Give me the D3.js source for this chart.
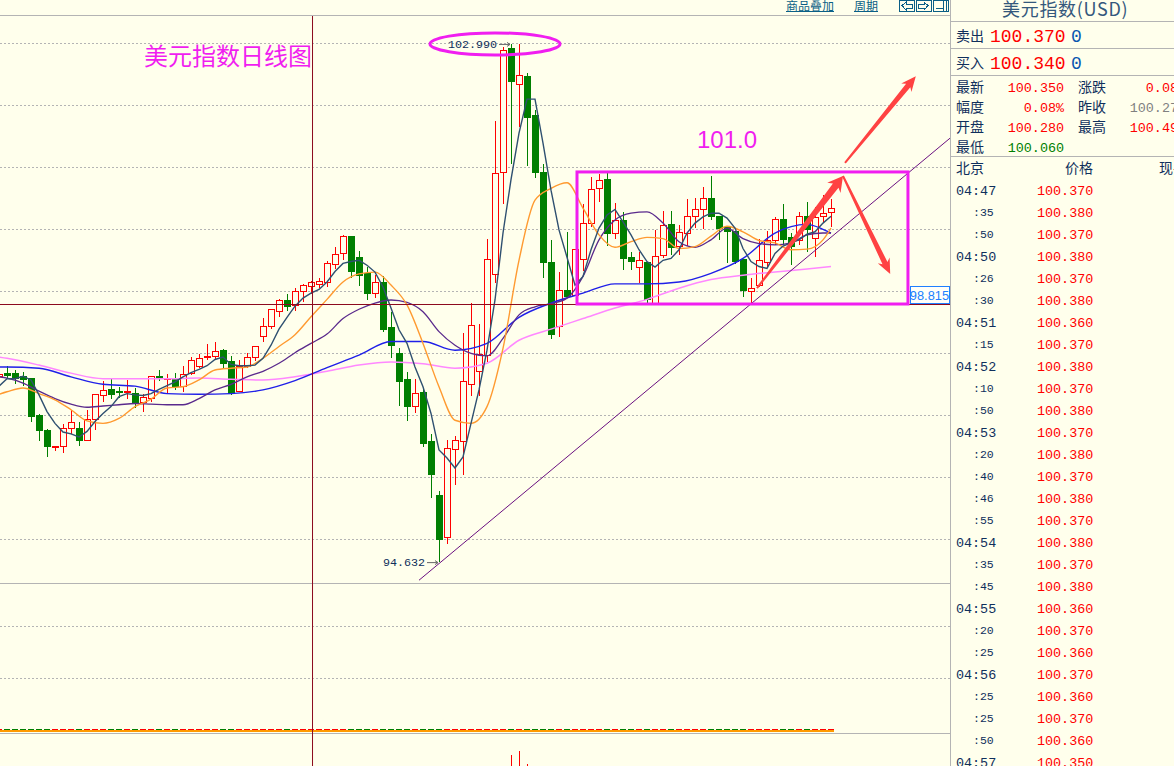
<!DOCTYPE html>
<html><head><meta charset="utf-8">
<style>html,body{margin:0;padding:0;background:#ffffec;overflow:hidden}svg{display:block}</style>
<script src="https://cdnjs.cloudflare.com/ajax/libs/d3/7.8.5/d3.min.js"></script>
</head><body><svg id="c" width="1174" height="766"></svg>
<script>
// ---------- candle data (first row is the clipped candle at the left edge) ----------
const opens=[97.63,
97.68,97.67,97.63,97.59,96.99,96.76,96.48,96.49,96.78,96.79,
96.59,96.93,97.32,97.42,97.39,97.36,97.35,97.21,97.27,97.62,
97.59,97.60,97.47,97.67,97.78,97.93,97.95,98.04,97.86,97.39,
97.79,97.94,98.27,98.43,98.67,98.85,98.77,99.00,99.08,99.11,
99.14,99.44,99.61,99.89,99.55,99.28,98.96,99.14,98.41,97.99,
97.57,97.15,97.36,96.57,95.71,95.03,96.45,96.57,97.49,97.70,
97.97,99.27,100.91,102.92,102.33,102.47,101.83,100.92,99.47,98.44,
99.02,98.94,99.52,100.10,100.66,100.80,99.94,100.14,99.54,99.39,
99.47,98.81,99.57,100.07,99.73,99.94,100.21,100.32,100.50,100.21,
100.03,99.96,99.52,98.99,99.09,99.46,99.82,100.16,99.86,99.82,
100.21,99.85,100.20,100.27];
const closes=[97.66,
97.65,97.60,97.57,96.98,96.75,96.49,96.50,96.78,96.89,96.59,
96.94,97.34,97.40,97.33,97.36,97.39,97.20,97.29,97.63,97.59,
97.60,97.47,97.66,97.89,97.92,97.95,98.03,97.84,97.35,97.79,
97.94,98.11,98.44,98.70,98.85,98.75,99.00,99.10,99.15,99.16,
99.45,99.59,99.89,99.32,99.26,98.96,99.14,98.39,98.12,97.55,
97.15,97.35,96.54,96.05,95.00,96.47,96.60,97.55,98.45,97.98,
99.52,100.90,102.88,102.39,102.48,101.81,100.91,99.46,98.30,99.02,
98.92,99.67,100.10,100.64,100.78,99.94,100.15,99.53,99.48,99.50,
98.86,99.56,100.06,99.70,99.95,100.21,100.32,100.50,100.20,100.02,
99.96,99.48,99.02,99.04,99.50,99.82,100.16,99.83,99.73,100.21,
99.99,100.19,100.26,100.34];
const highs=[97.72,
97.79,97.73,97.70,97.59,97.02,96.78,96.50,96.86,97.09,96.89,
97.09,97.34,97.55,97.59,97.46,97.57,97.44,97.35,97.64,97.73,
97.67,97.68,97.79,97.94,97.99,98.15,98.18,98.07,97.96,97.89,
98.00,98.11,98.57,98.71,98.88,98.96,99.05,99.11,99.17,99.21,
99.49,99.72,99.91,99.89,99.65,99.40,99.26,99.24,98.67,98.09,
97.70,97.59,97.44,96.70,95.78,96.60,96.67,98.33,98.81,98.47,
99.84,101.75,102.94,102.99,102.99,102.52,101.92,101.06,99.83,99.31,
99.96,99.67,100.41,100.85,100.90,100.91,100.42,100.28,99.63,99.63,
99.47,99.99,100.29,100.29,100.07,100.49,100.51,100.69,100.86,100.21,
100.05,99.98,99.52,99.21,99.85,99.97,100.20,100.41,99.94,100.28,
100.44,100.36,100.55,100.49];
const lows=[97.60,
97.59,97.50,97.47,96.89,96.59,96.33,96.43,96.40,96.70,96.51,
96.58,96.76,97.21,97.26,97.28,97.26,97.12,97.05,97.21,97.55,
97.36,97.41,97.38,97.65,97.76,97.89,97.91,97.76,97.33,97.38,
97.76,97.88,98.18,98.39,98.59,98.68,98.68,98.83,98.96,99.05,
99.07,99.36,99.50,99.22,99.08,98.86,98.89,98.34,97.93,97.15,
96.91,97.04,96.49,95.67,94.632,94.92,95.88,96.04,97.31,97.31,
97.86,99.13,100.41,101.05,101.65,101.02,100.83,99.21,98.23,98.27,
98.89,98.92,99.32,100.04,100.44,99.73,99.85,99.34,99.34,99.13,
98.81,98.78,99.53,99.59,99.59,99.73,100.02,100.00,100.15,99.82,
99.45,99.44,98.91,98.81,99.07,99.37,99.75,99.75,99.42,99.75,
99.64,99.56,100.12,100.04];
const candleIndex=d3.range(-1,104);

// ---------- moving averages ----------
const ma5=[97.47,
97.59,97.59,97.63,97.57,97.33,97.06,96.87,96.73,96.70,96.65,
96.74,96.90,97.03,97.14,97.30,97.35,97.33,97.32,97.35,97.42,
97.48,97.54,97.62,97.69,97.74,97.80,97.90,97.94,97.82,97.80,
97.80,97.81,97.92,98.13,98.39,98.58,98.76,98.89,98.97,99.03,
99.15,99.32,99.45,99.48,99.50,99.42,99.31,99.07,98.73,98.38,
98.16,97.78,97.46,97.03,96.44,96.31,96.15,96.33,96.87,97.41,
98.05,98.86,99.94,100.80,101.55,102.10,102.10,101.39,100.63,99.99,
99.55,99.10,99.24,99.67,100.02,100.23,100.32,100.12,99.91,99.67,
99.48,99.39,99.50,99.53,99.67,99.94,100.10,100.20,100.26,100.26,
100.18,100.02,99.69,99.48,99.40,99.37,99.61,99.73,99.78,99.83,
99.92,99.96,100.10,100.21];
const ma5Index=d3.range(-1,104);
const ma10=[97.34,
97.38,97.44,97.35,97.25,97.09,96.91,96.87,96.95,97.14,97.26,
97.44,97.46,97.57,97.73,97.76,97.78,97.92,98.11,98.30,98.59,
98.87,99.15,99.28,99.31,99.10,98.78,98.16,97.46,96.92,96.87,
97.14,98.08,99.50,100.47,100.66,100.75,100.34,99.91,99.71,99.80,
99.87,99.85,99.69,99.72,99.89,100.05,99.96,99.82,99.78,99.67,
99.68,99.83,100.02];
const ma20=[97.62,
97.60,97.52,97.39,97.27,97.18,97.13,97.15,97.17,97.19,97.18,
97.17,97.17,97.27,97.41,97.50,97.62,97.71,97.84,98.01,98.16,
98.31,98.56,98.71,98.81,98.86,98.82,98.67,98.35,98.13,98.00,
97.96,98.24,98.62,98.75,98.80,98.89,99.24,99.83,100.15,100.26,
100.28,100.10,99.80,99.71,99.83,100.02,99.85,99.77,99.75,99.78,
99.91,99.94,99.94];
const midIndex=[-1,...d3.range(0,104,2),103];
const ma60=[97.78,
97.78,97.76,97.62,97.50,97.47,97.35,97.34,97.35,97.41,97.56,
97.77,97.97,98.19,98.19,98.05,98.16,98.58,98.81,
98.97,99.12,99.12,99.15,99.29,99.53,99.94,100.08,100.00,99.94];
const ma60Index=[-1,...d3.range(0,104,4),102,103];
const ma120=[97.94,
97.92,97.81,97.68,97.59,97.59,97.59,97.60,97.58,97.57,97.62,
97.71,97.81,97.86,97.83,97.76,97.84,98.21,98.39,
98.56,98.73,98.87,99.05,99.19,99.26,99.31,99.36,99.40];
const ma120Index=[-1,...d3.range(0,104,4),103];

// ---------- grid and reference values ----------
const priceTicks=[103,102,101,100,99,98,97,96,95];
const lowerTicks=[2,1];
const lowerRules=[2.84,-0.05];
const volIndex=[63,64,65];
const volValues=[0.85,1.15,0.15];
const crossIndex=38.19, crossPrice=98.795, crossLabel="98.815";
const rectIndex=[71.25,112.62], rectPrice=[100.925,98.795];
const trendIndex=[51.5,117.88], trendPrice=[94.34,101.47];
const arrowsIndex=[[93.75,104.5],[104.75,113.6],[104.5,110.4]];
const arrowsPrice=[[99.05,100.86],[101.07,102.47],[100.86,99.28]];
const arrowsWidth=[7,5.5,5.5];
const highLabel="102.990", lowLabel="94.632";
const peakIndex=61, peakPrice=102.99;

// ---------- quote panel ----------
const panelTitle="美元指数(USD)";
const quoteLabels=["卖出","买入"], quoteValues=["100.370","100.340"], quoteSizes=["0","0"];
const statLeftLabels=["最新","幅度","开盘","最低"];
const statLeftValues=["100.350","0.08%","100.280","100.060"];
const statLeftColors=["#ff0000","#ff0000","#ff0000","#007f00"];
const statRightLabels=["涨跌","昨收","最高"];
const statRightValues=["0.080","100.270","100.490"];
const statRightColors=["#ff0000","#808080","#ff0000"];
const tradeHeaders=["北京","价格","现手"];
const tradeTimes=["04:47",":35",":50","04:50",":26",":30","04:51",":15","04:52",":10",":50","04:53",":20",":40",":46",":55","04:54",":35",":45","04:55",":20",":25","04:56",":25",":25",":50","04:57"];
const tradePrices=["100.370","100.380","100.370","100.380","100.370","100.380","100.360","100.370","100.380","100.370","100.380","100.370","100.380","100.370","100.380","100.370","100.380","100.370","100.380","100.360","100.370","100.360","100.370","100.360","100.370","100.360","100.350"];

// ---------- drawing ----------
const svg=d3.select("#c");
const BG="#ffffec",RED="#ff0000",GREEN="#007f00",MAG="#f01ef0",GRAY="#b4b4b4",NAVY="#0f2f5c";
const CJK='"Noto Sans CJK SC",sans-serif', MONO='"Liberation Mono",monospace';
svg.append("rect").attr("width",1174).attr("height",766).attr("fill",BG);

const x=d3.scaleLinear().domain([0,103]).range([7,831]);
const y=d3.scaleLinear().domain([95,103]).range([539.3,43.3]);
const yLow=d3.scaleLinear().domain([1,2]).range([678.3,626.3]);
const yVol=d3.scaleLinear().domain([0,2]).range([766,740]);

const chart=svg.append("g");
// grid
chart.append("g").selectAll("line").data(priceTicks).join("line")
 .attr("x1",0).attr("x2",950).attr("y1",d=>Math.round(y(d))+.5).attr("y2",d=>Math.round(y(d))+.5)
 .attr("stroke",GRAY).attr("stroke-dasharray","2 2");
chart.append("g").selectAll("line").data(lowerTicks).join("line")
 .attr("x1",0).attr("x2",950).attr("y1",d=>Math.round(yLow(d))+.5).attr("y2",d=>Math.round(yLow(d))+.5)
 .attr("stroke",GRAY).attr("stroke-dasharray","2 2");
chart.append("g").selectAll("line").data(lowerRules).join("line")
 .attr("x1",0).attr("x2",950).attr("y1",d=>Math.round(yLow(d))+.5).attr("y2",d=>Math.round(yLow(d))+.5)
 .attr("stroke",GRAY).attr("stroke-width",1);
svg.append("line").attr("x1",0).attr("x2",950).attr("y1",15.5).attr("y2",15.5).attr("stroke",GRAY);

// candles
const rows=candleIndex.map((idx,k)=>({idx,o:opens[k],c:closes[k],h:highs[k],l:lows[k]}));
const cg=chart.append("g").attr("shape-rendering","crispEdges");
const candle=cg.selectAll("g").data(rows).join("g");
candle.append("line").attr("x1",d=>x(d.idx)+.5).attr("x2",d=>x(d.idx)+.5)
 .attr("y1",d=>y(d.h)).attr("y2",d=>y(d.l)).attr("stroke",d=>d.c>=d.o?RED:GREEN);
candle.append("rect").attr("x",d=>x(d.idx)-2.5).attr("width",6)
 .attr("y",d=>y(Math.max(d.o,d.c))).attr("height",d=>Math.max(1,Math.abs(y(d.o)-y(d.c))))
 .attr("fill",d=>d.c>=d.o?BG:GREEN).attr("stroke",d=>d.c>=d.o?RED:GREEN).attr("stroke-width",1);

// moving averages
function maLine(idx,vals,color,curve,w){
 const gen=d3.line().x((d,i)=>x(idx[i])).y(d=>y(d)).curve(curve);
 chart.append("path").attr("d",gen(vals)).attr("fill","none").attr("stroke",color).attr("stroke-width",w);
}
maLine(ma120Index,ma120,"#ff88ff",d3.curveMonotoneX,1.5);
maLine(ma60Index,ma60,"#1f1fe8",d3.curveMonotoneX,1.4);
maLine(midIndex,ma20,"#5a2a8c",d3.curveMonotoneX,1.3);
maLine(midIndex,ma10,"#ff9a30",d3.curveMonotoneX,1.4);
maLine(ma5Index,ma5,"#2f5070",d3.curveLinear,1.4);

// volume baseline and the tips of the lower panel bars
const vg=chart.append("g").attr("shape-rendering","crispEdges");
vg.append("rect").attr("x",0).attr("width",x(103)+3).attr("y",730).attr("height",1.5).attr("fill","#ff9900");
vg.selectAll("rect.d").data(rows).join("rect").attr("class","d")
 .attr("x",d=>x(d.idx)-3).attr("width",6).attr("y",729).attr("height",1)
 .attr("fill",d=>d.c>=d.o?RED:GREEN);
vg.selectAll("line.v").data(volIndex).join("line").attr("class","v")
 .attr("x1",d=>x(d)+.5).attr("x2",d=>x(d)+.5).attr("y1",(d,i)=>yVol(volValues[i])).attr("y2",766).attr("stroke",RED);

// crosshair
chart.append("line").attr("x1",x(crossIndex)).attr("x2",x(crossIndex)).attr("y1",15).attr("y2",766).attr("stroke","#8c0a1e").attr("stroke-width",1);
chart.append("line").attr("x1",0).attr("x2",950).attr("y1",y(crossPrice)+.5).attr("y2",y(crossPrice)+.5).attr("stroke","#8c0a1e");

// trend line
chart.append("line").attr("x1",x(trendIndex[0])).attr("y1",y(trendPrice[0])).attr("x2",x(trendIndex[1])).attr("y2",y(trendPrice[1]))
 .attr("stroke","#6a1080").attr("stroke-width",1);

// hand-drawn box
chart.append("rect").attr("x",x(rectIndex[0])).attr("y",y(rectPrice[0])).attr("width",x(rectIndex[1])-x(rectIndex[0])).attr("height",y(rectPrice[1])-y(rectPrice[0]))
 .attr("fill","none").attr("stroke",MAG).attr("stroke-width",3);

// hand-drawn arrows
function arrow(xa,ya,xb,yb,w){
 const dx=xb-xa,dy=yb-ya,len=Math.hypot(dx,dy),ux=dx/len,uy=dy/len,nx=-uy,ny=ux,hl=15,hw=w*1.2,tw=1;
 const bx=xb-ux*hl,by=yb-uy*hl,nkx=xb-ux*(hl-3),nky=yb-uy*(hl-3);
 return [[xa+nx*tw,ya+ny*tw],[nkx+nx*w/2,nky+ny*w/2],[bx+nx*hw,by+ny*hw],[xb,yb],[bx-nx*hw,by-ny*hw],[nkx-nx*w/2,nky-ny*w/2],[xa-nx*tw,ya-ny*tw]].map(p=>p.join(",")).join(" ");
}
chart.append("g").selectAll("polygon").data(arrowsIndex).join("polygon")
 .attr("points",(d,i)=>arrow(x(d[0]),y(arrowsPrice[i][0]),x(d[1]),y(arrowsPrice[i][1]),arrowsWidth[i]))
 .attr("fill","#ff4242");

// ellipse round the high
chart.append("ellipse").attr("cx",x(peakIndex)).attr("cy",y(peakPrice)).attr("rx",65).attr("ry",11)
 .attr("fill","none").attr("stroke",MAG).attr("stroke-width",3);

// extreme labels
function extreme(label,idx,price){
 const px=x(idx),py=y(price);
 chart.append("text").attr("x",px-14).attr("y",py+4).attr("text-anchor","end").attr("font-family",MONO).attr("font-size",11.7).attr("fill",NAVY).text(label);
 chart.append("path").attr("d",`M${px-12},${py+.5}H${px-1}M${px-4},${py-1.5}L${px-1},${py+.5}L${px-4},${py+2.5}`).attr("fill","none").attr("stroke","#666");
}
extreme(highLabel,63,102.99);
extreme(lowLabel,54,94.632);

// chart texts
chart.append("text").attr("x",144).attr("y",65).attr("font-family",CJK).attr("font-size",24).attr("fill",MAG).text("美元指数日线图");
chart.append("text").attr("x",697).attr("y",148).attr("font-family",'"Liberation Sans",sans-serif').attr("font-size",24).attr("fill",MAG).text("101.0");

// crosshair price tag
const tag=chart.append("g");
tag.append("rect").attr("x",910.5).attr("y",286.5).attr("width",39).attr("height",17).attr("fill","#fffff8").attr("stroke","#2080ff");
tag.append("text").attr("x",949).attr("y",300).attr("text-anchor","end").attr("font-family",'"Liberation Sans",sans-serif').attr("font-size",12.8).attr("fill","#2080ff").text(crossLabel);

// toolbar
const tb=svg.append("g").attr("fill","#0b5f86").attr("font-family",CJK).attr("font-size",12);
[["商品叠加",786,48],["周期",854,24]].forEach(([t,px,w])=>{
 tb.append("text").attr("x",px).attr("y",10.5).text(t);
 tb.append("line").attr("x1",px).attr("x2",px+w).attr("y1",11.5).attr("y2",11.5).attr("stroke","#0b5f86");
});
const ic=svg.append("g").attr("fill","none").attr("stroke","#0b5f86").attr("shape-rendering","crispEdges");
[899,916,933].forEach(px=>ic.append("rect").attr("x",px+.5).attr("y",0).attr("width",15).attr("height",11));
ic.append("path").attr("d","M902,5.5L906,2V4H912V8H906V10Z");
ic.append("path").attr("d","M928,5.5L924,2V4H918V8H924V10Z");
ic.append("path").attr("d","M936,8.5H943M943.5,1V11M946,1V11");

// quote panel
const p=svg.append("g");
p.append("rect").attr("x",951).attr("y",0).attr("width",223).attr("height",766).attr("fill",BG);
p.append("line").attr("x1",950.5).attr("x2",950.5).attr("y1",0).attr("y2",766).attr("stroke",GRAY).attr("stroke-width",1);
[21,48,75,156].forEach(v=>p.append("line").attr("x1",951).attr("x2",1174).attr("y1",v+.5).attr("y2",v+.5).attr("stroke",GRAY));
function t(txt,px,py,size,fam,fill,anchor){
 return p.append("text").attr("x",px).attr("y",py).attr("font-size",size).attr("font-family",fam).attr("fill",fill).attr("text-anchor",anchor||"start").text(txt);
}
t(panelTitle,1002,16,18,CJK,"#34587c").attr("letter-spacing",0.7);
quoteLabels.forEach((d,i)=>{
 const yy=41+i*27;
 t(d,956,yy,14,CJK,NAVY);
 t(quoteValues[i],990,yy+1,18,MONO,RED);
 t(quoteSizes[i],1071,yy+1,18,MONO,"#0a56b0");
});
statLeftLabels.forEach((d,i)=>{
 const yy=92+i*20;
 t(d,956,yy,14,CJK,NAVY);
 t(statLeftValues[i],1064,yy,13.4,MONO,statLeftColors[i],"end");
});
statRightLabels.forEach((d,i)=>{
 const yy=92+i*20;
 t(d,1078,yy,14,CJK,NAVY);
 t(statRightValues[i],1186,yy,13.4,MONO,statRightColors[i],"end");
});
t(tradeHeaders[0],956,173,14,CJK,NAVY);
t(tradeHeaders[1],1065,173,14,CJK,NAVY);
t(tradeHeaders[2],1159,173,14,CJK,NAVY);
const rowY=d3.scaleLinear().domain([0,1]).range([195,217]);
tradeTimes.forEach((d,i)=>{
 const full=d.length>3;
 t(d,full?956:973,rowY(i)+(full?0:-1),full?13.4:11.5,MONO,NAVY);
 t(tradePrices[i],1037,rowY(i),13.4,MONO,RED);
});
</script></body></html>
